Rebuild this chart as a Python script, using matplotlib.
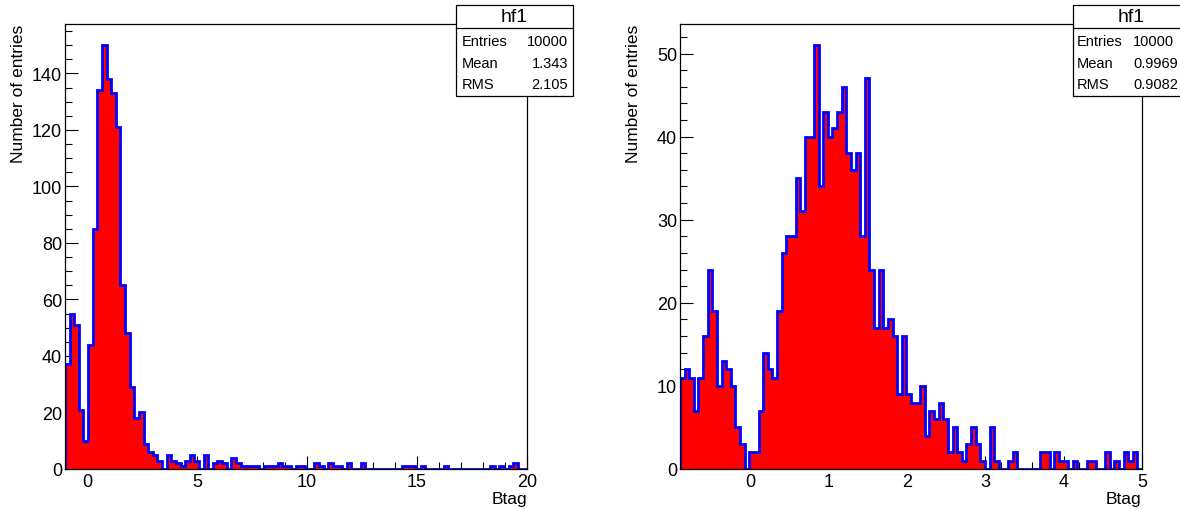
import matplotlib
matplotlib.use("Agg")
import matplotlib.pyplot as plt
from matplotlib.patches import Rectangle
from matplotlib.ticker import MultipleLocator
import numpy as np

plt.rcParams['font.family'] = ['Liberation Sans', 'DejaVu Sans']

# left histogram: 100 bins on [-1, 20]
left_range = (-1.0, 20.0)
left_counts = [37, 55, 51, 21, 10, 44, 85, 134, 150, 138,
               133, 121, 65, 48, 29, 18, 20, 9, 6, 5,
               3, 0, 5, 3, 2, 1, 3, 5, 3, 0,
               5, 0, 2, 3, 2, 0, 4, 2, 1, 1,
               1, 1, 0, 1, 1, 1, 2, 1, 1, 0,
               1, 1, 0, 0, 2, 1, 0, 2, 1, 1,
               0, 2, 0, 0, 2, 0, 0, 0, 0, 0,
               0, 0, 0, 1, 1, 1, 0, 1, 0, 0,
               0, 0, 1, 0, 0, 0, 0, 0, 0, 0,
               0, 0, 1, 0, 1, 0, 1, 2, 0, 0]

# right histogram: 100 bins on [-0.9, 5]
right_range = (-0.9, 5.0)
right_counts = [11, 12, 11, 7, 11, 16, 24, 19, 10, 13,
                12, 10, 5, 3, 0, 2, 2, 7, 14, 12,
                11, 19, 26, 28, 28, 35, 31, 40, 40, 51,
                34, 43, 40, 41, 43, 46, 38, 36, 38, 28,
                47, 24, 17, 24, 17, 18, 16, 9, 16, 9,
                8, 8, 10, 4, 7, 6, 8, 6, 2, 5,
                2, 1, 3, 5, 3, 1, 0, 5, 1, 0,
                0, 1, 2, 0, 0, 0, 0, 0, 2, 2,
                0, 2, 1, 1, 0, 1, 0, 0, 1, 1,
                0, 0, 2, 0, 1, 0, 2, 1, 2, 0]

hist_name = "hf1"
x_title = "Btag"
y_title = "Number of entries"
stat_labels = ["Entries", "Mean", "RMS"]
left_stats = ["10000", "1.343", "2.105"]
right_stats = ["10000", "0.9969", "0.9082"]

W, H = 1180, 510
fig = plt.figure(figsize=(W / 100, H / 100), dpi=100)


def fx(px):
    return px / W


def fy(py):
    return 1 - py / H


def draw_hist(x0, counts, rng, xmaj, xmin, ymaj, ymin):
    ax = fig.add_axes([fx(x0), fy(470), 462 / W, 445 / H])
    edges = np.linspace(rng[0], rng[1], len(counts) + 1)
    ax.stairs(counts, edges, fill=True, color="#ff0000", zorder=2)
    ax.stairs(counts, edges, color="#0000ff", linewidth=2.0, zorder=3)
    ax.set_xlim(rng)
    ax.set_ylim(0, 1.05 * max(counts))
    ax.xaxis.set_major_locator(MultipleLocator(xmaj))
    ax.xaxis.set_minor_locator(MultipleLocator(xmin))
    ax.yaxis.set_major_locator(MultipleLocator(ymaj))
    ax.yaxis.set_minor_locator(MultipleLocator(ymin))
    ax.tick_params(which="both", direction="in", top=False, right=False,
                   width=0.8, labelsize=13, zorder=4)
    ax.tick_params(which="major", length=9.5)
    ax.tick_params(which="minor", length=5)
    ax.tick_params(axis="x", pad=3)
    ax.tick_params(axis="y", pad=2)
    for s in ax.spines.values():
        s.set_linewidth(0.9)
        s.set_zorder(5)
    return ax


axl = draw_hist(65, left_counts, left_range, 5, 1, 20, 5)
axr = draw_hist(680, right_counts, right_range, 1, 0.2, 10, 2)

# axis titles
for xr, yl in [(527, 19), (1141, 633)]:
    fig.text(fx(xr), fy(500), x_title, ha="right", va="center", fontsize=12.5)
    fig.text(fx(yl), fy(25), y_title, ha="center", va="top",
             rotation=90, fontsize=12.5)


# stats boxes
def stats_box(bx, values, lab_x, val_x, val_ha):
    top, sep, bot, bw = 6, 29, 97, 117
    fig.add_artist(Rectangle((fx(bx), fy(bot)), bw / W, (bot - top) / H,
                             transform=fig.transFigure, facecolor="white",
                             edgecolor="black", linewidth=0.9, zorder=10))
    fig.add_artist(plt.Line2D([fx(bx), fx(bx + bw)], [fy(sep), fy(sep)],
                              transform=fig.transFigure, color="black",
                              linewidth=0.9, zorder=11))
    fig.text(fx(bx + bw / 2), fy(17.5), hist_name, ha="center", va="center",
             fontsize=14, zorder=12)
    for i, (lab, val) in enumerate(zip(stat_labels, values)):
        yy = fy(42 + 21.5 * i)
        fig.text(fx(lab_x), yy, lab, ha="left", va="center", fontsize=10.5,
                 zorder=12)
        fig.text(fx(val_x), yy, val, ha=val_ha, va="center", fontsize=10.5,
                 zorder=12)


stats_box(456, left_stats, 462, 568, "right")
stats_box(1073, right_stats, 1077, 1133, "left")

fig.savefig("out.png", dpi=100)
